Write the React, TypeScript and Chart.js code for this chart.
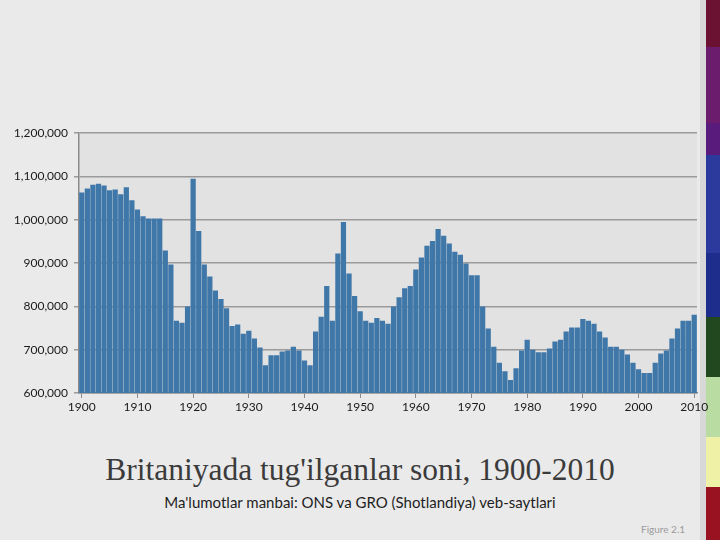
import React, { useEffect, useRef } from "react";
import { Chart, registerables } from "chart.js";

Chart.register(...registerables);

const years: number[] = [];
for (let y = 1900; y <= 2010; y++) years.push(y);

const births: number[] = [
  1063000, 1072000, 1081000, 1083000, 1079000, 1068000, 1070000, 1059000, 1075000, 1045000,
  1024000, 1008000, 1003000, 1003000, 1003000, 929000, 897000, 767000, 762000, 800000,
  1095000, 974000, 897000, 869000, 837000, 817000, 796000, 755000, 758000, 737000,
  744000, 726000, 705000, 664000, 687000, 687000, 696000, 698000, 707000, 698000,
  675000, 664000, 742000, 776000, 847000, 767000, 922000, 995000, 876000, 824000,
  789000, 767000, 762000, 773000, 767000, 760000, 800000, 821000, 842000, 847000,
  885000, 913000, 940000, 951000, 979000, 963000, 945000, 926000, 919000, 899000,
  872000, 872000, 800000, 749000, 707000, 670000, 650000, 630000, 657000, 698000,
  723000, 700000, 694000, 694000, 703000, 719000, 723000, 742000, 751000, 751000,
  771000, 767000, 760000, 742000, 728000, 707000, 707000, 700000, 689000, 670000,
  655000, 646000, 646000, 670000, 691000, 698000, 726000, 749000, 767000, 767000,
  781000,
];

const yMin = 600000;
const yMax = 1200000;
const yStep = 100000;

const title = "Britaniyada tug'ilganlar soni, 1900-2010";
const subtitle = "Ma'lumotlar manbai: ONS va GRO (Shotlandiya) veb-saytlari";
const figureLabel = "Figure 2.1";

const stripColors = [
  ["#6b1233", 47], ["#6c1c6c", 76], ["#5a1c7c", 32], ["#2b3a9c", 98],
  ["#1e2d8c", 64], ["#21481f", 60], ["#b9dca2", 60], ["#eff2a6", 50], ["#991222", 53],
] as [string, number][];

const plotBg = {
  id: "plotBg",
  beforeDraw(chart: any) {
    const { ctx, chartArea } = chart;
    ctx.save();
    ctx.fillStyle = "#e2e2e2";
    ctx.fillRect(chartArea.left, chartArea.top, chartArea.right - chartArea.left, chartArea.bottom - chartArea.top);
    ctx.restore();
  },
};

export default function App() {
  const ref = useRef<HTMLCanvasElement | null>(null);
  useEffect(() => {
    document.body.style.margin = "0";
    const chart = new Chart(ref.current as HTMLCanvasElement, {
      type: "bar",
      data: {
        labels: years.map(String),
        datasets: [
          {
            data: births,
            backgroundColor: "#3f77a9",
            borderWidth: 0,
            barPercentage: 0.94,
            categoryPercentage: 1,
          },
        ],
      },
      plugins: [plotBg],
      options: {
        animation: false,
        responsive: false,
        maintainAspectRatio: false,
        layout: { padding: { left: 0, top: 10, right: 23, bottom: 0 } },
        plugins: { legend: { display: false }, tooltip: { enabled: false } },
        scales: {
          x: {
            offset: true,
            grid: {
              offset: false,
              drawOnChartArea: false,
              drawTicks: true,
              tickLength: 5,
              color: (c: any) => (c.index % 10 === 0 ? "#8a8a8a" : "rgba(0,0,0,0)"),
            },
            border: { display: true, color: "#8a8a8a", width: 1.5 },
            ticks: {
              autoSkip: false,
              maxRotation: 0,
              minRotation: 0,
              padding: 2,
              color: "#1a1a1a",
              font: { family: "Lato", size: 12 },
              callback: (v: any, i: number) => (years[i] % 10 === 0 ? String(years[i]) : ""),
            },
            afterFit: (s: any) => {
              s.height = 27;
            },
          },
          y: {
            min: yMin,
            max: yMax,
            ticks: {
              stepSize: yStep,
              color: "#1a1a1a",
              padding: 6,
              font: { family: "Lato", size: 12 },
              callback: (v: any) => Number(v).toLocaleString("en-US"),
            },
            grid: { color: "#9a9a9a", lineWidth: 1.5, tickLength: 5 },
            border: { display: true, color: "#8a8a8a", width: 1.5 },
            afterFit: (s: any) => {
              s.width = 79;
            },
          },
        },
      },
    });
    return () => chart.destroy();
  }, []);

  let acc = 0;
  return (
    <div style={{ position: "fixed", left: 0, top: 0, width: 720, height: 540, background: "#eaeaea", overflow: "hidden" }}>
      <div style={{ position: "absolute", left: 700, top: 0, width: 6, height: 540, background: "#d8d8d8" }} />
      {stripColors.map(([c, h], i) => {
        const top = acc;
        acc += h;
        return <div key={i} style={{ position: "absolute", left: 706, top, width: 14, height: h, background: c }} />;
      })}
      <canvas ref={ref} width={720} height={300} style={{ position: "absolute", left: 0, top: 120, width: 720, height: 300 }} />
      <div style={{ position: "absolute", left: 0, width: 720, top: 452, textAlign: "center", fontFamily: "'Liberation Serif', serif", fontSize: 31.5, color: "#3b3b3b" }}>
        {title}
      </div>
      <div style={{ position: "absolute", left: 0, width: 720, top: 493, textAlign: "center", fontFamily: "Lato, sans-serif", fontSize: 15, color: "#1e1e1e" }}>
        {subtitle}
      </div>
      <div style={{ position: "absolute", left: 641, top: 523, fontFamily: "Lato, sans-serif", fontSize: 10, color: "#9a9a9a" }}>
        {figureLabel}
      </div>
    </div>
  );
}
